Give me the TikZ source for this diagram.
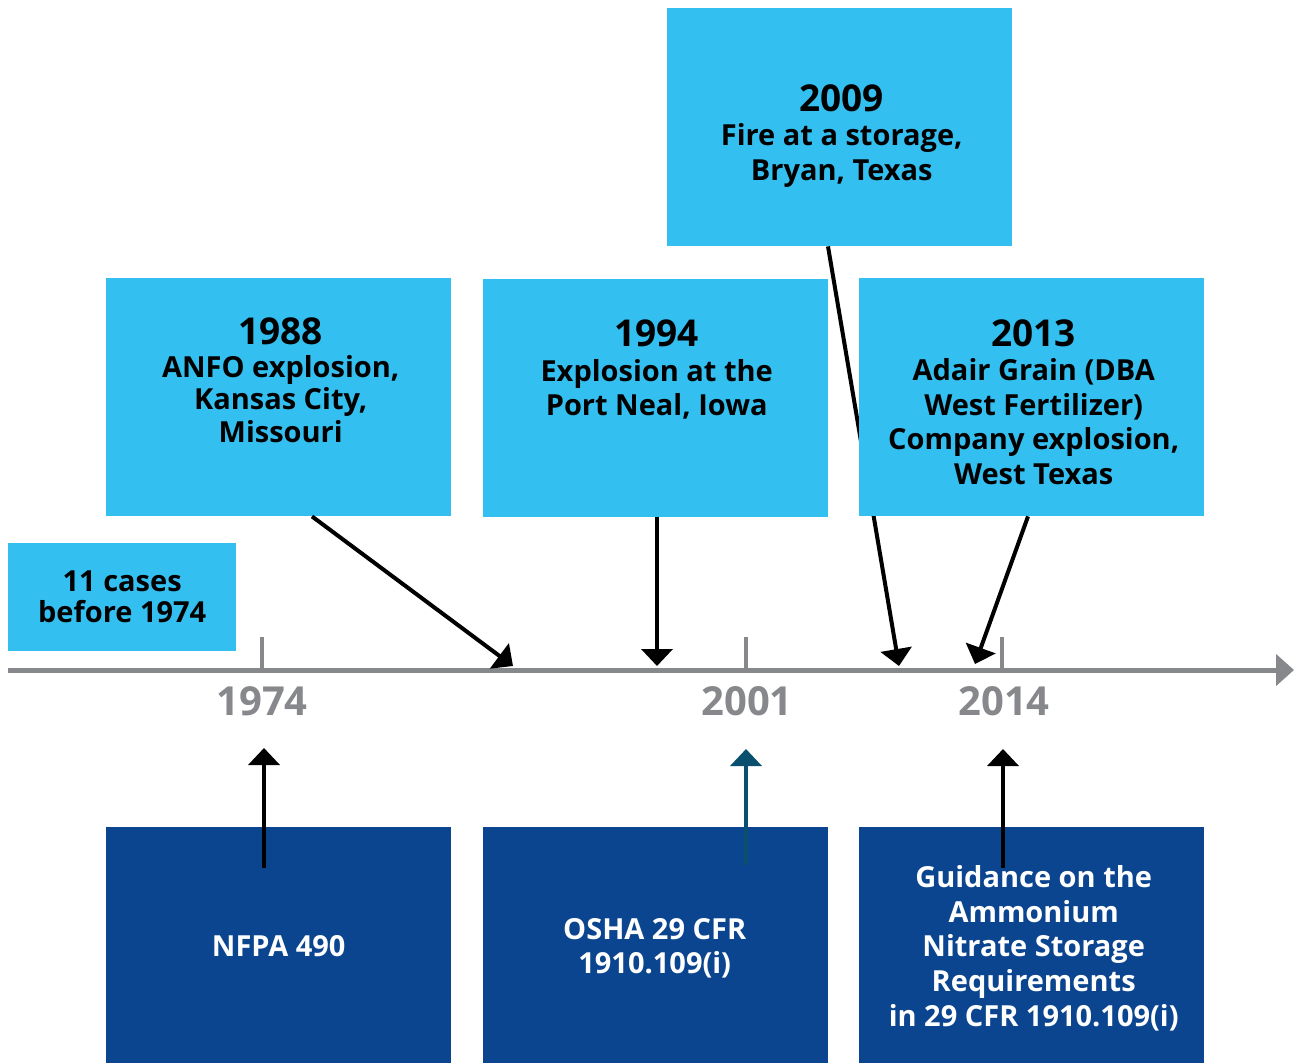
\documentclass[tikz,border=0pt]{standalone}
\usepackage{fontspec}
\setmainfont{Open Sans}
\usetikzlibrary{arrows.meta,calc}
\definecolor{lightblue}{RGB}{51,191,239}
\definecolor{darkblue}{RGB}{11,69,143}
\definecolor{axisgray}{RGB}{135,136,140}
\definecolor{tealarrow}{RGB}{11,79,110}
\begin{document}
\begin{tikzpicture}[x=1pt,y=-1pt,
  eventbox/.style={fill=lightblue, draw=none, minimum width=345pt, minimum height=238pt, inner sep=0pt, anchor=north west},
  rulebox/.style={fill=darkblue, draw=none, minimum width=345pt, minimum height=236pt, inner sep=0pt, anchor=north west},
  ruletext/.style={inner sep=0pt, text=white, align=center, font=\bfseries\fontsize{29}{34.75}\selectfont},
  evtext/.style={anchor=north, align=center, inner sep=0pt, text=black, font=\bfseries\fontsize{29}{34.5}\selectfont},
  axisyear/.style={anchor=north, inner sep=0pt, text=axisgray, font=\bfseries\fontsize{40}{44}\selectfont},
  evarrow/.style={draw=black, line width=4pt, -{Triangle[length=17pt,width=31pt]}},
  axisline/.style={draw=axisgray, line width=5pt, -{Triangle[length=18pt,width=31pt]}},
  tickmark/.style={draw=axisgray, line width=4pt}
]
\useasboundingbox (0,0) rectangle (1294,1063);

% axis
\coordinate (axstart) at (8,670);
\coordinate (axend) at (1294,670);
\draw[axisline] (axstart) -- (axend);
\foreach \nm/\x in {t74/262, t01/746, t14/1002}{
  \coordinate (\nm) at (\x,670);
  \draw[tickmark] (\nm) -- ++(0,-33);
}
\node[axisyear] (y1974) at (262,686) {1974};
\node[axisyear] (y2001) at (747,686) {2001};
\node[axisyear] (y2014) at (1004,686) {2014};

% 2009 box and its arrow (below the 2013 box)
\node[eventbox] (b2009) at (667,8) {};
\node[evtext] (x2009) at ($(b2009.north)+(2,76)$) {{\fontsize{37}{34}\selectfont 2009}\\Fire at a storage,\\Bryan, Texas};
\coordinate (a2009) at (899,666);
\draw[evarrow] ($(b2009.south west)+(161,0)$) -- (a2009);

% event boxes
\node[eventbox] (b11) at (8,543) [minimum width=228pt, minimum height=108pt, align=center, font=\bfseries\fontsize{29}{31}\selectfont] {11 cases\\before 1974};
\node[eventbox] (b1988) at (106,278) {};
\node[evtext, font=\bfseries\fontsize{29}{32.5}\selectfont] (x1988) at ($(b1988.north)+(2,40)$) {{\fontsize{37}{34}\selectfont 1988}\\ANFO explosion,\\Kansas City,\\Missouri};
\node[eventbox] (b1994) at (483,279) {};
\node[evtext] (x1994) at ($(b1994.north)+(1,41)$) {{\fontsize{37}{34}\selectfont 1994}\\Explosion at the\\Port Neal, Iowa};
\node[eventbox] (b2013) at (859,278) {};
\node[evtext] (x2013) at ($(b2013.north)+(2,41)$) {{\fontsize{37}{34}\selectfont 2013}\\Adair Grain (DBA\\West Fertilizer)\\Company explosion,\\West Texas};

% event arrows
\coordinate (a1988) at (513,666);
\coordinate (a1994) at (657,666);
\coordinate (a2013) at (975,664);
\draw[evarrow] ($(b1988.south west)+(206,0)$) -- (a1988);
\draw[evarrow] ($(b1994.south west)+(174,0)$) -- (a1994);
\draw[evarrow] ($(b2013.south west)+(169,0)$) -- (a2013);

% regulation boxes
\node[rulebox] (r1) at (106,827) {};
\node[ruletext] (rt1) at ($(r1.center)+(0,1)$) {NFPA 490};
\node[rulebox] (r2) at (483,827) {};
\node[ruletext] (rt2) at ($(r2.center)+(-1,3)$) {OSHA 29 CFR\\1910.109(i)};
\node[rulebox] (r3) at (859,827) {};
\node[ruletext] (rt3) at ($(r3.center)+(2,3)$) {Guidance on the\\Ammonium\\Nitrate Storage\\Requirements\\in 29 CFR 1910.109(i)};

% regulation arrows
\coordinate (u1) at (264,748);
\coordinate (u2) at (746,749);
\coordinate (u3) at (1003,749);
\draw[evarrow] ($(r1.north west)+(158,41)$) -- (u1);
\draw[evarrow, draw=tealarrow, fill=tealarrow] ($(r2.north west)+(263,38)$) -- (u2);
\draw[evarrow] ($(r3.north west)+(144,41)$) -- (u3);
\end{tikzpicture}
\end{document}
